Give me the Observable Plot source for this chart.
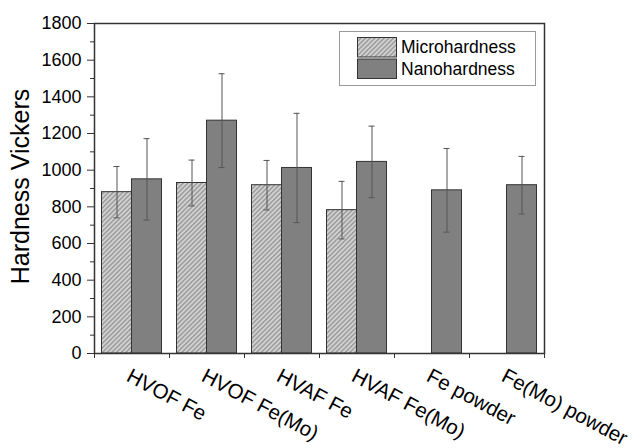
<!DOCTYPE html>
<html>
<head>
<meta charset="utf-8">
<script src="https://cdn.jsdelivr.net/npm/d3@7"></script>
<script src="https://cdn.jsdelivr.net/npm/@observablehq/plot@0.6"></script>
<style>
  html, body { margin: 0; padding: 0; background: #fff; }
  #wrap { position: relative; width: 634px; height: 448px; font-family: "Liberation Sans", Arial, sans-serif; }
  #legend { position: absolute; left: 0; top: 0; pointer-events: none; }
</style>
</head>
<body>
<div id="wrap"></div>
<script>
const categories = ["HVOF Fe", "HVOF Fe(Mo)", "HVAF Fe", "HVAF Fe(Mo)", "Fe powder", "Fe(Mo) powder"];
const seriesNames = ["Microhardness", "Nanohardness"];
const micro    = [880, 930, 918, 782, null, null];
const microErr = [140, 125, 135, 157, null, null];
const nano     = [950, 1270, 1012, 1045, 890, 918];
const nanoErr  = [222, 256, 298, 195, 228, 157];
const yTicks = [0, 200, 400, 600, 800, 1000, 1200, 1400, 1600, 1800];
const yMinorTicks = [100, 300, 500, 700, 900, 1100, 1300, 1500, 1700];

const microData = categories.map((c, i) => ({cat: c, v: micro[i], e: microErr[i]})).filter(d => d.v != null);
const nanoData = categories.map((c, i) => ({cat: c, v: nano[i], e: nanoErr[i]}));

const errColor = "#555";
const chart = Plot.plot({
  width: 634,
  height: 448,
  marginLeft: 94,
  marginRight: 90,
  marginTop: 23,
  marginBottom: 95,
  style: {fontFamily: "Liberation Sans, Arial, sans-serif", background: "#fff", color: "#000"},
  x: {domain: categories, padding: 0},
  y: {domain: [0, 1800]},
  marks: [
    Plot.barY(microData, {x: "cat", y: "v", fill: "url(#hatch)", stroke: "#333", strokeWidth: 1, insetLeft: 7.5, insetRight: 37.5}),
    Plot.barY(nanoData, {x: "cat", y: "v", fill: "#808080", stroke: "#333", strokeWidth: 1, insetLeft: 37.5, insetRight: 7.5}),
    Plot.ruleX(microData, {x: "cat", y1: d => d.v - d.e, y2: d => d.v + d.e, dx: -15, stroke: errColor}),
    Plot.tickY(microData, {x: "cat", y: d => d.v + d.e, dx: -15, insetLeft: 34.5, insetRight: 34.5, stroke: errColor}),
    Plot.tickY(microData, {x: "cat", y: d => d.v - d.e, dx: -15, insetLeft: 34.5, insetRight: 34.5, stroke: errColor}),
    Plot.ruleX(nanoData, {x: "cat", y1: d => d.v - d.e, y2: d => d.v + d.e, dx: 15, stroke: errColor}),
    Plot.tickY(nanoData, {x: "cat", y: d => d.v + d.e, dx: 15, insetLeft: 34.5, insetRight: 34.5, stroke: errColor}),
    Plot.tickY(nanoData, {x: "cat", y: d => d.v - d.e, dx: 15, insetLeft: 34.5, insetRight: 34.5, stroke: errColor}),
    Plot.frame({stroke: "#333", strokeWidth: 1.5}),
    Plot.axisY(yTicks, {tickSize: 7, tickPadding: 6, fontSize: 18, tickFormat: d3.format("d"), label: null, stroke: "#333", fill: "#000"}),
    Plot.axisY(yMinorTicks, {tickSize: 4, tickFormat: () => "", label: null, stroke: "#333"}),
    Plot.axisX(categories, {tickSize: 5, tickFormat: () => "", label: null, dx: -37.5, stroke: "#333"}),
    Plot.axisX(categories.slice(-1), {tickSize: 5, tickFormat: () => "", label: null, dx: 37.5, stroke: "#333"}),
    Plot.text(categories, {x: d => d, text: d => d, frameAnchor: "bottom", rotate: 28, textAnchor: "start", lineAnchor: "top", dy: 14, dx: 0, fontSize: 20.5, fill: "#000"}),
    Plot.text(["Hardness Vickers"], {text: d => d, frameAnchor: "left", textAnchor: "middle", lineAnchor: "middle", rotate: -90, dx: -74, dy: -2, fontSize: 25, fill: "#000"})
  ]
});

const ns = "http://www.w3.org/2000/svg";
const defs = document.createElementNS(ns, "defs");
defs.innerHTML = `<pattern id="hatch" patternUnits="userSpaceOnUse" width="3.3" height="3.3" patternTransform="rotate(45)">
  <rect width="3.3" height="3.3" fill="#d2d2d2"/>
  <line x1="1.6" y1="0" x2="1.6" y2="3.3" stroke="#6a6a6a" stroke-width="0.8"/>
</pattern>`;
chart.insertBefore(defs, chart.firstChild);
document.getElementById("wrap").appendChild(chart);

// legend overlay inside plot frame
const lg = d3.select("#wrap").append("svg").attr("id", "legend").attr("width", 634).attr("height", 448);
lg.append("rect").attr("x", 339.5).attr("y", 31.5).attr("width", 196).attr("height", 54)
  .attr("fill", "#fff").attr("stroke", "#999").attr("stroke-width", 1);
const swFill = ["url(#hatch)", "#808080"];
seriesNames.forEach((name, i) => {
  lg.append("rect").attr("x", 357.5).attr("y", 37.5 + i * 21.5).attr("width", 39).attr("height", 19.5)
    .attr("fill", swFill[i]).attr("stroke", "#333").attr("stroke-width", 1);
  lg.append("text").attr("x", 401).attr("y", 53 + i * 21.7).attr("font-size", 17.5)
    .attr("font-family", "Liberation Sans, Arial, sans-serif").attr("fill", "#000").text(name);
});
</script>
</body>
</html>
